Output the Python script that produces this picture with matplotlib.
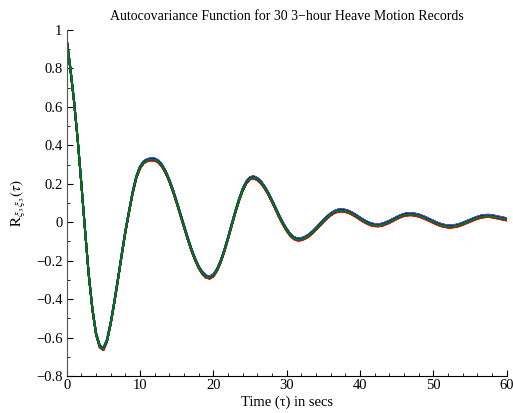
import numpy as np
import matplotlib.pyplot as plt
from matplotlib.ticker import MultipleLocator, FuncFormatter

plt.rcParams['font.family'] = ['Liberation Serif', 'DejaVu Serif']
plt.rcParams['mathtext.fontset'] = 'stix'

# lag (secs) and ensemble autocovariance
tau = np.arange(0, 60.5, 0.5)
acov = [0.95, 0.80, 0.63, 0.43, 0.20, -0.04, -0.27, -0.45, -0.58, -0.645,
        -0.66, -0.615, -0.525, -0.415, -0.295, -0.17, -0.05, 0.055, 0.155, 0.235,
        0.285, 0.312, 0.323, 0.327, 0.326, 0.316, 0.294, 0.260, 0.216, 0.163,
        0.104, 0.041, -0.022, -0.084, -0.142, -0.192, -0.234, -0.264, -0.283, -0.288,
        -0.277, -0.248, -0.204, -0.148, -0.083, -0.014, 0.054, 0.116, 0.169, 0.207,
        0.229, 0.233, 0.2245, 0.207, 0.1805, 0.148, 0.110, 0.0695, 0.029, -0.008,
        -0.040, -0.066, -0.083, -0.090, -0.088, -0.081, -0.069, -0.053, -0.034, -0.014,
        0.006, 0.025, 0.041, 0.053, 0.060, 0.062, 0.059, 0.053, 0.043, 0.032,
        0.019, 0.007, -0.003, -0.011, -0.015, -0.016, -0.013, -0.006, 0.002, 0.012,
        0.022, 0.031, 0.038, 0.041, 0.042, 0.039, 0.035, 0.028, 0.020, 0.011,
        0.002, -0.007, -0.014, -0.019, -0.022, -0.022, -0.0195, -0.015, -0.008, 0.000,
        0.008, 0.016, 0.023, 0.029, 0.032, 0.033, 0.031, 0.027, 0.023, 0.019,
        0.015]

# per-record spread around the ensemble curve (30 records)
record_shift = [0.006, -0.002, -0.006, 0.003, -0.004, 0.001, -0.001,
                0.005, -0.003, -0.005, 0.002, -0.002, 0.004, 0.000,
                0.004, 0.001, -0.006, 0.002, -0.003, 0.003, -0.001,
                0.006, -0.004, -0.005, 0.001, -0.002, 0.005, 0.000,
                0.003, -0.001]
colors = ['b', 'g', 'r', 'c', 'm', 'y', 'k']

fig = plt.figure(figsize=(5.13, 4.13), dpi=100)
ax = fig.add_axes([0.130, 0.0896, 0.8577, 0.8378])

acov = np.array(acov)
for i, s in enumerate(record_shift):
    ax.plot(tau, acov + s, color=colors[i % 7], lw=1.3)

ax.set_xlim(0, 60)
ax.set_ylim(-0.8, 1)
ax.xaxis.set_major_locator(MultipleLocator(10))
ax.xaxis.set_minor_locator(MultipleLocator(2))
ax.yaxis.set_major_locator(MultipleLocator(0.2))
ax.yaxis.set_minor_locator(MultipleLocator(0.1))
fmt = FuncFormatter(lambda v, _: ('%g' % round(v, 2)).replace('-', '\u2212'))
ax.xaxis.set_major_formatter(fmt)
ax.yaxis.set_major_formatter(fmt)

ax.spines['top'].set_visible(False)
ax.spines['right'].set_visible(False)
ax.spines['left'].set_color('#555555')
ax.tick_params(which='both', direction='in', labelsize=10.5)
ax.tick_params(which='major', length=4, width=0.8)
ax.tick_params(which='minor', length=2, width=0.6)
ax.tick_params(axis='x', pad=2)
ax.tick_params(axis='y', pad=3)

ax.set_title('Autocovariance Function for 30 3\u2212hour Heave Motion Records', fontsize=10, pad=7)
ax.set_xlabel('Time (\u03c4) in secs', fontsize=10.5, labelpad=3)
ax.set_ylabel(r'$\mathrm{R}_{\xi_3\,\xi_3}(\tau)$', fontsize=11, labelpad=6)

plt.savefig('out.png', dpi=100)
